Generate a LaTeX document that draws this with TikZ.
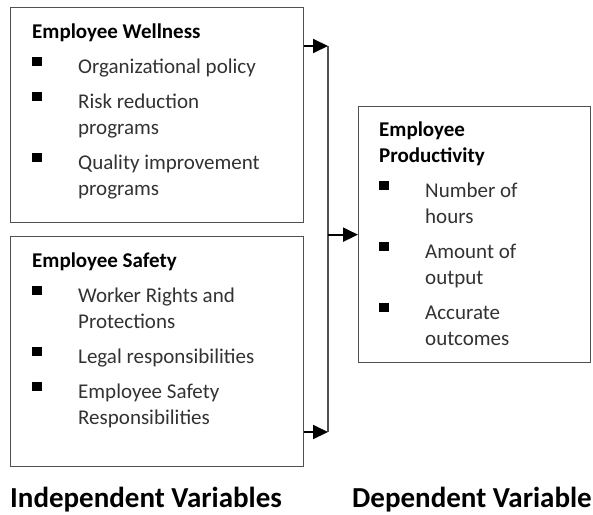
\documentclass[tikz,border=0pt]{standalone}
\usepackage{fontspec}
\setmainfont{Carlito}
\usetikzlibrary{arrows.meta, calc, positioning}
\definecolor{boxgray}{RGB}{80, 80, 80}
\definecolor{textgray}{RGB}{50, 50, 50}

% one bullet item with hanging indent
\newcommand{\sqitem}[1]{\par\hangindent=46pt\hangafter=1\noindent\makebox[46pt][l]{\raisebox{7pt}{\rule{9.5pt}{9.5pt}}}{\color{textgray}#1}}
% title and items of one box
\newcommand{\varlist}[2]{\parbox[t]{250pt}{\fontsize{21}{26}\selectfont\setlength{\parskip}{9pt}\textbf{#1}#2}}

\begin{document}
\begin{tikzpicture}[> = Triangle, x=1pt, y=-1pt]
	\useasboundingbox (0,0) rectangle (593,514);
	\tikzset{
		varbox/.style={draw=boxgray, line width=1.3pt, anchor=north west, inner sep=0pt},
		arr/.style={-{Triangle[length=15pt,width=14pt]}, line width=2pt},
		varlabel/.style={anchor=base west, inner sep=0pt, font=\fontsize{29}{34}\selectfont\bfseries}
	}

	% boxes
	\node[varbox, minimum width=293, minimum height=215] (well) at (10,7) {};
	\node[varbox, minimum width=293, minimum height=230] (safe) at (10,236) {};
	\node[varbox, minimum width=232, minimum height=256] (prod) at (358,106) {};

	% box texts
	\node[anchor=base west, inner sep=0pt] (welltxt) at (32,38) {\varlist{Employee Wellness}{%
		\sqitem{Organizational policy}%
		\sqitem{Risk reduction\newline programs}%
		\sqitem{Quality improvement\newline programs}}};
	\node[anchor=base west, inner sep=0pt] (safetxt) at (32,267) {\varlist{Employee Safety}{%
		\sqitem{Worker Rights and\newline Protections}%
		\sqitem{Legal responsibilities}%
		\sqitem{Employee Safety\newline Responsibilities}}};
	\node[anchor=base west, inner sep=0pt] (prodtxt) at (379,136) {\varlist{Employee\newline Productivity}{%
		\sqitem{Number of\newline hours}%
		\sqitem{Amount of\newline output}%
		\sqitem{Accurate\newline outcomes}}};

	% bus line and arrows
	\coordinate (bustop) at (328,46);
	\coordinate (busbot) at (328,432);
	\draw[boxgray, line width=1.3pt] (bustop) -- (busbot);
	\draw[arr] (well.east |- bustop) -- (bustop);
	\draw[arr] (safe.east |- busbot) -- (busbot);
	\draw[arr] (bustop |- prod.west) -- (prod.west);

	% captions
	\node[varlabel] (indep) at (10,507) {Independent Variables};
	\node[varlabel] (dep) at (352,507) {Dependent Variable};
\end{tikzpicture}
\end{document}
